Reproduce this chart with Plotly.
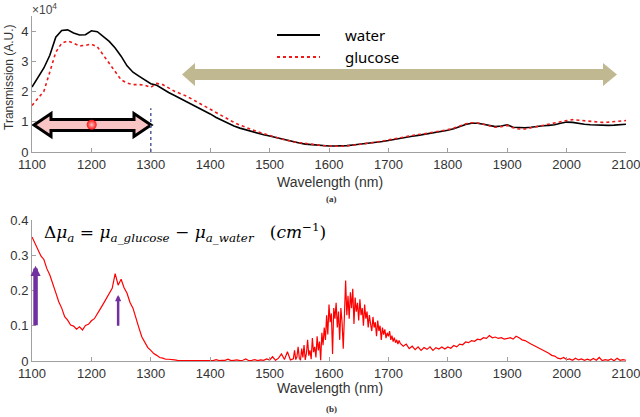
import plotly.graph_objects as go

# ---- data ----
wl_top = list(range(1100, 2101, 10))
water = [2.15, 2.45, 2.78, 3.20, 3.80, 4.02, 4.04, 3.94, 3.87, 3.88,
         4.01, 3.98, 3.82, 3.66, 3.44, 3.17, 2.85, 2.64, 2.51, 2.38,
         2.26, 2.21, 2.08, 1.97, 1.87, 1.77, 1.68, 1.58, 1.47, 1.36,
         1.26, 1.14, 1.04, 0.94, 0.86, 0.79, 0.73, 0.67, 0.62, 0.57,
         0.53, 0.48, 0.43, 0.38, 0.34, 0.30, 0.26, 0.24, 0.22, 0.21,
         0.20, 0.20, 0.20, 0.21, 0.23, 0.25, 0.27, 0.29, 0.32, 0.35,
         0.38, 0.42, 0.45, 0.49, 0.52, 0.55, 0.58, 0.61, 0.64, 0.68,
         0.72, 0.77, 0.84, 0.91, 0.95, 0.95, 0.92, 0.87, 0.84, 0.86,
         0.90, 0.82, 0.80, 0.80, 0.82, 0.85, 0.87, 0.88, 0.90, 0.95,
         0.99, 0.98, 0.94, 0.92, 0.90, 0.89, 0.88, 0.88, 0.89, 0.90,
         0.92]
glucose = [1.54, 1.76, 2.01, 2.65, 3.30, 3.60, 3.67, 3.60, 3.51, 3.53,
           3.57, 3.48, 3.21, 2.94, 2.66, 2.39, 2.28, 2.23, 2.23, 2.21,
           2.14, 2.27, 2.23, 2.12, 2.01, 1.93, 1.85, 1.74, 1.63, 1.53,
           1.41, 1.30, 1.19, 1.08, 0.98, 0.89, 0.81, 0.74, 0.67, 0.61,
           0.56, 0.49, 0.43, 0.38, 0.34, 0.31, 0.28, 0.25, 0.23, 0.21,
           0.20, 0.19, 0.19, 0.20, 0.22, 0.24, 0.27, 0.30, 0.33, 0.36,
           0.40, 0.44, 0.47, 0.51, 0.55, 0.58, 0.60, 0.63, 0.66, 0.70,
           0.74, 0.79, 0.86, 0.93, 0.97, 0.96, 0.92, 0.86, 0.82, 0.84,
           0.88, 0.80, 0.76, 0.76, 0.80, 0.86, 0.90, 0.93, 0.96, 1.00,
           1.04, 1.07, 1.05, 1.03, 1.00, 0.98, 0.98, 0.99, 1.00, 1.01,
           1.04]

# wavelengths for the difference spectrum: 5 nm steps, 2 nm in the noisy band
wl_bot = list(range(1100, 1540, 5)) + list(range(1540, 1721, 2)) + list(range(1725, 2101, 5))
delta_mu = [
    # 1100-1195
    0.352, 0.334, 0.320, 0.298, 0.288, 0.262, 0.244, 0.216, 0.194, 0.168,
    0.150, 0.126, 0.116, 0.102, 0.099, 0.090, 0.097, 0.088, 0.101, 0.104,
    # 1200-1295
    0.114, 0.120, 0.136, 0.148, 0.162, 0.176, 0.192, 0.206, 0.248, 0.215,
    0.232, 0.208, 0.192, 0.166, 0.150, 0.118, 0.094, 0.068, 0.054, 0.038,
    # 1300-1395
    0.030, 0.021, 0.016, 0.010, 0.008, 0.005, 0.005, 0.003, 0.003, 0.002,
    0.002, 0.003, 0.001, 0.002, 0.002, 0.001, 0.003, 0.001, 0.002, 0.001,
    # 1400-1495
    0.002, 0.001, 0.004, 0.001, 0.002, 0.002, 0.005, 0.001, 0.002, 0.003,
    0.001, 0.002, 0.006, 0.001, 0.002, 0.004, 0.001, 0.003, 0.002, 0.006,
    # 1500-1535
    0.003, 0.012, 0.002, 0.008, 0.020, 0.004, 0.026, 0.003,
    # 1540-1720 (2 nm)
    0.006, 0.030, 0.004, 0.012, 0.040, 0.008, 0.002, 0.035, 0.010, 0.045,
    0.003, 0.022, 0.060, 0.015, 0.030, 0.005, 0.065, 0.025, 0.040, 0.010,
    0.070, 0.030, 0.055, 0.002, 0.080, 0.045, 0.095, 0.060, 0.130, 0.075,
    0.160, 0.110, 0.135, 0.020, 0.150, 0.120, 0.165, 0.095, 0.140, 0.060,
    0.150, 0.110, 0.035, 0.170, 0.228, 0.130, 0.185, 0.120, 0.195, 0.150,
    0.205, 0.105, 0.180, 0.140, 0.165, 0.115, 0.175, 0.130, 0.150, 0.100,
    0.160, 0.120, 0.140, 0.095, 0.130, 0.105, 0.085, 0.125, 0.095, 0.110,
    0.070, 0.115, 0.085, 0.100, 0.060, 0.095, 0.075, 0.090, 0.065, 0.080,
    0.070, 0.085, 0.060, 0.072, 0.055, 0.066, 0.052, 0.060, 0.048, 0.058,
    0.050,
    # 1725-1795
    0.042, 0.048, 0.035, 0.042, 0.032, 0.040, 0.030, 0.038, 0.033, 0.040,
    0.030, 0.038, 0.034, 0.040, 0.034,
    # 1800-1895
    0.040, 0.036, 0.044, 0.040, 0.048, 0.046, 0.054, 0.052, 0.058, 0.056,
    0.062, 0.060, 0.066, 0.064, 0.072, 0.066, 0.068, 0.064, 0.066, 0.062,
    # 1900-1995
    0.064, 0.066, 0.062, 0.070, 0.066, 0.060, 0.058, 0.052, 0.048, 0.044,
    0.040, 0.034, 0.030, 0.026, 0.022, 0.016, 0.014, 0.008, 0.006, 0.010,
    # 2000-2100
    0.004, 0.006, 0.002, 0.008, 0.003, 0.006, 0.002, 0.005, 0.002, 0.007,
    0.002, 0.010, 0.001, 0.004, 0.002, 0.006, 0.001, 0.008, 0.002, 0.004,
    0.002]

x_ticks = list(range(1100, 2101, 100))
top_ticks = [0, 1, 2, 3, 4]
bot_ticks = [0, 0.1, 0.2, 0.3, 0.4]
bot_ticktext = ["0", "0.1", "0.2", "0.3", "0.4"]

W, H = 640, 417
L, R = 32, 14


def px(x):
    return (x - L) / (W - L - R)


def py(y):
    return 1 - y / H


def path(points):
    return "M " + " L ".join(f"{px(a):.5f},{py(b):.5f}" for a, b in points) + " Z"


FONT = "Liberation Sans"
fig = go.Figure()

fig.add_trace(go.Scatter(x=wl_top, y=water, mode="lines", name="water",
                         line=dict(color="black", width=1.6), xaxis="x", yaxis="y"))
fig.add_trace(go.Scatter(x=wl_top, y=glucose, mode="lines", name="glucose",
                         line=dict(color="#f01818", width=1.6, dash="dot"), xaxis="x", yaxis="y"))
fig.add_trace(go.Scatter(x=wl_bot, y=delta_mu, mode="lines", name="delta",
                         line=dict(color="#ff0000", width=1.2), xaxis="x2", yaxis="y2"))

axis_common = dict(showgrid=False, zeroline=False, showline=True, linecolor="#a0a0a0",
                   linewidth=1, ticks="inside", ticklen=4, tickcolor="#a0a0a0", automargin=False,
                   ticklabeloverflow="allow",
                   tickfont=dict(family=FONT, size=13, color="#333"))

fig.update_layout(
    width=W, height=H, plot_bgcolor="white", paper_bgcolor="white",
    margin=dict(l=L, r=R, t=0, b=0, autoexpand=False), showlegend=False,
    xaxis=dict(domain=[0, 1], range=[1100, 2100], tickvals=x_ticks, anchor="y", **axis_common),
    yaxis=dict(domain=[py(152), py(16)], range=[0, 4.5], tickvals=top_ticks, anchor="x", **axis_common),
    xaxis2=dict(domain=[0, 1], range=[1100, 2100], tickvals=x_ticks, anchor="y2", **axis_common),
    yaxis2=dict(domain=[py(361), py(220)], range=[0, 0.4], tickvals=bot_ticks, ticktext=bot_ticktext,
                anchor="x2", **axis_common),
)

# khaki double arrow
fig.add_shape(type="path", xref="paper", yref="paper", line=dict(width=0), fillcolor="#bfb891",
              path=path([(182, 74.5), (195, 63), (195, 69), (603, 69), (603, 63), (617, 74.5),
                         (603, 86), (603, 80), (195, 80), (195, 86)]))
# pink double arrow (below the traces so the red glow sits on top)
fig.add_shape(type="path", xref="paper", yref="paper", line=dict(width=3, color="black"),
              fillcolor="#f8c4c4", layer="below",
              path=path([(34, 125), (51, 113.5), (51, 119.5), (134, 119.5), (134, 113.5), (151, 125),
                         (134, 136.5), (134, 130.5), (51, 130.5), (51, 136.5)]))
fig.add_trace(go.Scatter(x=[1200.5], y=[0.9], mode="markers", xaxis="x", yaxis="y", hoverinfo="skip",
                         marker=dict(size=10, color="#ff1010", line=dict(width=0),
                                     gradient=dict(type="radial", color="#f8c4c4"))))
# dotted marker at 1300
fig.add_shape(type="line", xref="x", yref="y", x0=1300, x1=1300, y0=0, y1=1.45,
              line=dict(color="#4f5f99", width=1.5, dash="dot"))

# legend
fig.add_shape(type="line", xref="paper", yref="paper", x0=px(277), x1=px(320), y0=py(35), y1=py(35),
              line=dict(color="black", width=2))
fig.add_shape(type="line", xref="paper", yref="paper", x0=px(277), x1=px(320), y0=py(57), y1=py(57),
              line=dict(color="#f01818", width=2, dash="dot"))
for txt, yy in [("water", 35), ("glucose", 57)]:
    fig.add_annotation(text=txt, xref="paper", yref="paper", x=px(343), y=py(yy), xanchor="left",
                       yanchor="middle", showarrow=False, font=dict(family="Noto Sans", size=15, color="black"))

# purple arrows
for x0, y0, y1, w, s in [(1106, 0.097, 0.27, 4.5, 0.45), (1245, 0.096, 0.187, 2.5, 0.5)]:
    fig.add_annotation(x=x0, y=y1, ax=x0, ay=y0, xref="x2", yref="y2", axref="x2", ayref="y2",
                       text="", showarrow=True, arrowhead=2, arrowwidth=w, arrowsize=s,
                       arrowcolor="#7030a0", standoff=0)

# text
texts = [
    ("×10<sup>4</sup>", 44, 9, 12, 0, FONT, "#444"),
    ("Transmission (A.U.)", 9, 77, 12, -90, FONT, "#333"),
    ("Wavelength (nm)", 330, 182, 14, 0, FONT, "#333"),
    ("<b>(a)</b>", 331, 199, 9, 0, "Liberation Serif", "#333"),
    ("Wavelength (nm)", 330, 388, 14, 0, FONT, "#333"),
    ("<b>(b)</b>", 331, 409, 9, 0, "Liberation Serif", "#333"),
]
for t, x, y, s, ang, fam, col in texts:
    fig.add_annotation(text=t, xref="paper", yref="paper", x=px(x), y=py(y), showarrow=False,
                       xanchor="center", yanchor="middle",
                       textangle=ang, font=dict(family=fam, size=s, color=col))

fig.add_annotation(
    text="Δ<i>μ<sub>a</sub></i> = <i>μ<sub>a_glucose</sub></i> − <i>μ<sub>a_water</sub></i>   (<i>cm</i><sup>−1</sup>)",
    xref="paper", yref="paper", x=px(42), y=py(232), xanchor="left", yanchor="middle", showarrow=False,
    font=dict(family="DejaVu Serif", size=17, color="black"))

# drop the page's default body margin so the figure sits at the window's corner
fig.write_html("out.html", config={"displayModeBar": False},
               post_script="document.body.style.margin='0';")
